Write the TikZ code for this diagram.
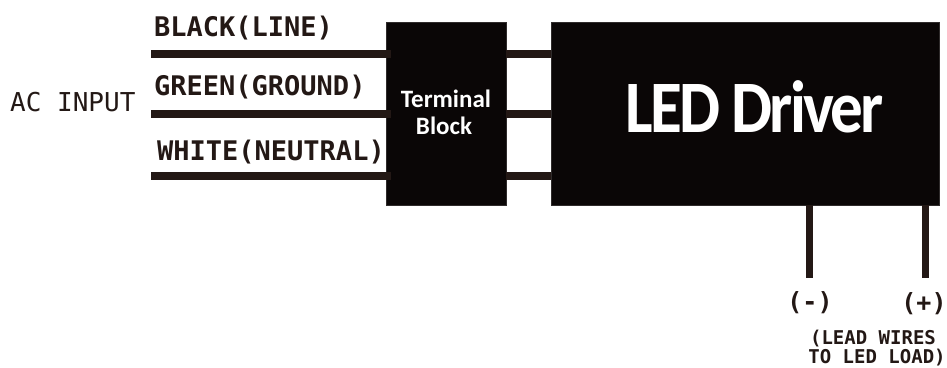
\documentclass[tikz,border=0pt]{standalone}
\usepackage{fontspec}
\setmainfont{Carlito}
\setmonofont{DejaVu Sans Mono}
\newfontfamily\tightfont[LetterSpace=-4.0,FakeStretch=0.88]{Carlito}
\usetikzlibrary{positioning}
\definecolor{wirecol}{HTML}{231815}
\definecolor{boxcol}{HTML}{0A0606}
\tikzset{
    blockbox/.style={fill=boxcol, draw=boxcol!85!white, inner sep=0pt, text=white, align=center},
    wire/.style={draw=wirecol, line width=7.5pt},
    wirelabel/.style={anchor=base west, inner sep=0pt, text=wirecol, font=\ttfamily\bfseries\fontsize{27}{27}\selectfont},
    polelabel/.style={anchor=base, inner sep=0pt, text=wirecol, font=\ttfamily\bfseries\fontsize{25}{25}\selectfont},
    leadlabel/.style={anchor=base, inner sep=0pt, text=wirecol, font=\ttfamily\bfseries\fontsize{19}{19}\selectfont}
}

\begin{document}
\begin{tikzpicture}[x=1pt, y=-1pt]
    \useasboundingbox (0,0) rectangle (947,367);
    % boxes
    \node[blockbox, minimum width=120pt, minimum height=183pt] (terminal) at (446,113.5) {};
    \node[blockbox, minimum width=388pt, minimum height=183pt] (driver) at (745,113.5) {};
    \node[inner sep=0pt, text=white, anchor=base] (termone) at (446,107) {\fontsize{25}{25}\selectfont\textbf{Terminal}};
    \node[inner sep=0pt, text=white, anchor=base] (termtwo) at (444,134) {\fontsize{25}{25}\selectfont\textbf{Block}};
    \node[inner sep=0pt, text=white, anchor=base] (drivertext) at (753,132) {\fontsize{74}{74}\selectfont\tightfont\textbf{LED Driver}};
    % free ends of the wires
    \coordinate (lineend) at (151,54);
    \coordinate (groundend) at (151,114);
    \coordinate (neutralend) at (151,176);
    \coordinate (minusend) at (809,278);
    \coordinate (plusend) at (925,278);
    \foreach \w in {lineend,groundend,neutralend} {
        \draw[wire] (\w) -- ([xshift=5pt]terminal.west |- \w);
        \draw[wire] (terminal.east |- \w) -- (driver.west |- \w);
    }
    \foreach \w in {minusend,plusend}
        \draw[wire, line width=7pt] (driver.south -| \w) -- (\w);
    % labels
    \node[wirelabel] (linetext) at (154,36) {BLACK(LINE)};
    \node[wirelabel] (groundtext) at (154,95) {GREEN(GROUND)};
    \node[wirelabel] (neutraltext) at (157,160) {WHITE(NEUTRAL)};
    \node[anchor=base west, inner sep=0pt, text=wirecol, font=\ttfamily\fontsize{26}{26}\selectfont] (actext) at (10,111) {AC INPUT};
    \node[polelabel] (minustext) at (810,310) {(-)};
    \node[polelabel] (plustext) at (924,311) {(+)};
    \node[leadlabel] (leadone) at (873,344) {(LEAD WIRES};
    \node[leadlabel] (leadtwo) at (877,363) {TO LED LOAD)};
\end{tikzpicture}
\end{document}
